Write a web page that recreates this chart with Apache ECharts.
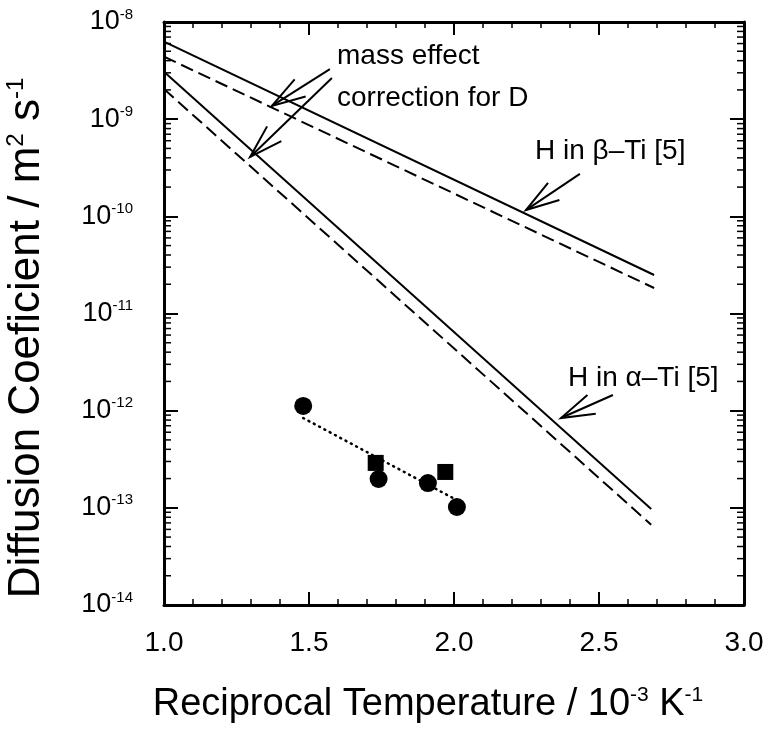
<!DOCTYPE html>
<html><head><meta charset="utf-8">
<script src="https://cdn.jsdelivr.net/npm/echarts@6.0.0/dist/echarts.min.js"></script>
<style>html,body{margin:0;padding:0;background:#fff}#c{width:768px;height:730px}#d{position:absolute;left:170px;top:560px;font:11px monospace;color:transparent;white-space:pre-wrap;width:400px}</style>
</head><body><div id="c"></div><div id="d"></div>
<script>
const errs = [];
window.onerror = (m) => { errs.push(String(m)); };
// ---- data ----
const xRange = [1.0, 3.0];
const xTickLabels = ['1.0', '1.5', '2.0', '2.5', '3.0'];
const yTickExponents = [-14, -13, -12, -11, -10, -9, -8];
const minorMultipliers = [2, 3, 4, 5, 6, 7, 8, 9];

const betaH = [[1.0, 6.27e-9], [2.69, 2.49e-11]];
const betaD = [[1.0, 4.4e-9], [2.69, 1.83e-11]];
const alphaH = [[1.0, 3.08e-9], [2.68, 9.7e-14]];
const alphaD = [[1.0, 2.04e-9], [2.68, 6.7e-14]];
const fitLine = [[1.48, 8.4e-13], [2.01, 1.2e-13]];
const circles = [[1.48, 1.12e-12], [1.74, 1.98e-13], [1.91, 1.80e-13], [2.01, 1.02e-13]];
const squares = [[1.73, 2.9e-13], [1.97, 2.34e-13]];
// arrows: [tailX, tailY, tipX, tipY]
const arrows = [
  [1.572, 3.28e-9, 1.372, 1.37e-9],
  [1.579, 2.65e-9, 1.297, 4.08e-10],
  [2.434, 2.73e-10, 2.248, 1.16e-10],
  [2.548, 1.45e-12, 2.369, 8.4e-13]
];

const FONT = '"Liberation Sans", Arial, Helvetica, sans-serif';
const INK = '#000';
const minorTickData = [];
yTickExponents.slice(0, -1).forEach(e => minorMultipliers.forEach(m => minorTickData.push([xRange[0], m * Math.pow(10, e)])));

const chart = echarts.init(document.getElementById('c'));

function xAxisDef(pos, showLabel) {
  return {
    type: 'value', position: pos, min: xRange[0], max: xRange[1], interval: 0.5,
    axisLine: {show: true, onZero: false, lineStyle: {color: INK, width: 3}},
    axisTick: {show: true, inside: true, length: 13, lineStyle: {color: INK, width: 2}},
    minorTick: {show: true, splitNumber: 5, length: 6, lineStyle: {color: INK, width: 1.5}},
    splitLine: {show: false}, minorSplitLine: {show: false},
    axisLabel: {
      show: showLabel, margin: 24, color: INK, fontSize: 28, fontFamily: FONT,
      formatter: v => xTickLabels[Math.round((v - xRange[0]) / 0.5)]
    }
  };
}
function yAxisDef(pos, showLabel) {
  return {
    type: 'log', logBase: 10, position: pos, min: 1e-14, max: 1e-8, interval: 1,
    axisLine: {show: true, onZero: false, lineStyle: {color: INK, width: 3}},
    axisTick: {show: true, inside: true, length: 14, lineStyle: {color: INK, width: 2}},
    splitLine: {show: false},
    axisLabel: {
      show: showLabel, margin: 31, color: INK, fontFamily: FONT,
      formatter: v => '{b|10}{s|' + yTickExponents[yTickExponents.indexOf(Math.round(Math.log10(v)))] + '}',
      rich: {
        b: {fontSize: 27, lineHeight: 30, fontFamily: FONT, color: INK},
        s: {fontSize: 15, lineHeight: 16, verticalAlign: 'top', fontFamily: FONT, color: INK}
      }
    }
  };
}

const lineBase = {type: 'line', symbol: 'none', silent: true, xAxisIndex: 0, yAxisIndex: 0};

const option = {
  animation: false,
  grid: {left: 164, right: 24, top: 22, bottom: 125},
  xAxis: [xAxisDef('bottom', true), xAxisDef('top', false)],
  yAxis: [yAxisDef('left', true), yAxisDef('right', false)],
  series: [
    Object.assign({}, lineBase, {data: betaH, lineStyle: {color: INK, width: 2}}),
    Object.assign({}, lineBase, {data: betaD, lineStyle: {color: INK, width: 2, type: [13, 6]}}),
    Object.assign({}, lineBase, {data: alphaH, lineStyle: {color: INK, width: 2}}),
    Object.assign({}, lineBase, {data: alphaD, lineStyle: {color: INK, width: 2, type: [13, 6]}}),
    Object.assign({}, lineBase, {data: fitLine, lineStyle: {color: INK, width: 2.5, type: [1, 5], cap: 'round'}}),
    {type: 'scatter', data: circles, symbol: 'circle', symbolSize: 18, itemStyle: {color: INK, opacity: 1}, silent: true},
    {type: 'scatter', data: squares, symbol: 'rect', symbolSize: 16, itemStyle: {color: INK, opacity: 1}, silent: true},
    {
      type: 'custom', data: minorTickData, clip: false, encode: {x: 0, y: 1},
      renderItem: (params, api) => {
        const v = api.value(1);
        const pL = api.coord([xRange[0], v]);
        const pR = api.coord([xRange[1], v]);
        return {type: 'group', children: [
          {type: 'line', shape: {x1: pL[0], y1: pL[1], x2: pL[0] + 7, y2: pL[1]}, style: {stroke: INK, lineWidth: 1.5}},
          {type: 'line', shape: {x1: pR[0], y1: pR[1], x2: pR[0] - 7, y2: pR[1]}, style: {stroke: INK, lineWidth: 1.5}}
        ]};
      }
    },
    {
      type: 'custom', data: arrows, clip: false,
      dimensions: ['x1', 'y1', 'x2', 'y2'],
      encode: {x: [0, 2], y: [1, 3]},
      renderItem: (params, api) => {
        const t = api.coord([api.value(0), api.value(1)]);
        const h = api.coord([api.value(2), api.value(3)]);
        const ang = Math.atan2(t[1] - h[1], t[0] - h[0]);
        const L = 35, a = 17 * Math.PI / 180;
        const b1 = [h[0] + L * Math.cos(ang + a), h[1] + L * Math.sin(ang + a)];
        const b2 = [h[0] + L * Math.cos(ang - a), h[1] + L * Math.sin(ang - a)];
        return {type: 'group', children: [
          {type: 'line', shape: {x1: t[0], y1: t[1], x2: h[0], y2: h[1]}, style: {stroke: INK, lineWidth: 2}},
          {type: 'polyline', shape: {points: [b1, h, b2]}, style: {stroke: INK, lineWidth: 2, fill: null}}
        ]};
      }
    }
  ],
  graphic: [
    {type: 'text', x: 337, y: 56, style: {text: 'mass effect', fontSize: 28, fontFamily: FONT, fill: INK, align: 'left', verticalAlign: 'middle'}},
    {type: 'text', x: 337, y: 98, style: {text: 'correction for D', fontSize: 28, fontFamily: FONT, fill: INK, align: 'left', verticalAlign: 'middle'}},
    {type: 'text', x: 535, y: 151, style: {text: 'H in β–Ti [5]', fontSize: 28, fontFamily: FONT, fill: INK, align: 'left', verticalAlign: 'middle'}},
    {type: 'text', x: 568, y: 378, style: {text: 'H in α–Ti [5]', fontSize: 28, fontFamily: FONT, fill: INK, align: 'left', verticalAlign: 'middle'}},
    {type: 'text', x: 428, y: 705, style: {
      text: '{a|Reciprocal Temperature / 10}{s|-3}{a| K}{s|-1}',
      align: 'center', verticalAlign: 'middle',
      rich: {
        a: {fontSize: 38, lineHeight: 40, fontFamily: FONT, color: INK},
        s: {fontSize: 21, lineHeight: 20, verticalAlign: 'top', fontFamily: FONT, color: INK}
      }
    }},
    {type: 'text', x: 27, y: 338, rotation: Math.PI / 2, style: {
      text: '{a|Diffusion Coeficient / m}{s|2}{a| s}{s|-1}',
      align: 'center', verticalAlign: 'middle',
      rich: {
        a: {fontSize: 44, lineHeight: 46, fontFamily: FONT, color: INK},
        s: {fontSize: 24, lineHeight: 24, verticalAlign: 'top', fontFamily: FONT, color: INK}
      }
    }}
  ]
};
try { chart.setOption(option); } catch (e) { errs.push('setOption: ' + e.message); }
setTimeout(() => {
  const list = chart.getZr().storage.getDisplayList();
  document.getElementById('d').textContent = 'n=' + list.length + ' ' + errs.join(' ');
}, 50);
</script>
</body></html>
